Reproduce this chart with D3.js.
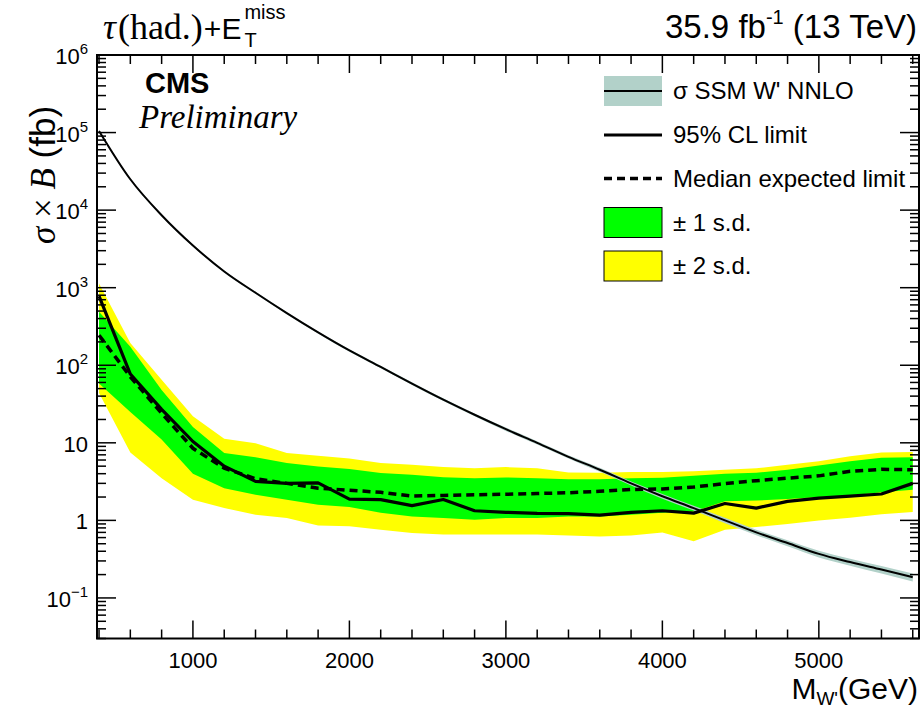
<!DOCTYPE html>
<html>
<head>
<meta charset="utf-8">
<script src="https://cdn.jsdelivr.net/npm/d3@7"></script>
<style>
  html, body { margin: 0; padding: 0; background: #fff; }
  svg { display: block; font-family: "Liberation Sans", Arial, Helvetica, sans-serif; }
</style>
</head>
<body>
<svg id="chart" width="922" height="708"></svg>
<script>
"use strict";

// ── Data ────────────────────────────────────────────────────────────────────
const massPoints = [400, 600, 800, 1000, 1200, 1400, 1600, 1800, 2000, 2200, 2400, 2600, 2800, 3000,
  3200, 3400, 3600, 3800, 4000, 4200, 4400, 4600, 4800, 5000, 5200, 5400, 5600];

const observedLimit = [780, 77, 27, 10.4, 5.0, 3.18, 3.0, 3.05, 1.88, 1.85, 1.55, 1.86, 1.33, 1.27,
  1.23, 1.22, 1.17, 1.27, 1.33, 1.24, 1.65, 1.44, 1.76, 1.94, 2.06, 2.19, 3.0];

const expectedLimit = [244, 71, 24, 8.5, 4.7, 3.45, 3.0, 2.6, 2.45, 2.3, 2.06, 2.1, 2.14, 2.17,
  2.22, 2.27, 2.37, 2.5, 2.54, 2.69, 2.98, 3.25, 3.5, 3.75, 4.3, 4.55, 4.5];

const expectedPlus1 = [490, 173, 48, 16, 7.4, 6.5, 5.5, 4.95, 4.6, 4.07, 3.87, 3.6, 3.5, 3.57,
  3.5, 3.4, 3.4, 3.5, 3.55, 3.76, 4.0, 4.1, 4.5, 5.1, 5.8, 6.4, 6.5];
const expectedMinus1 = [58, 25, 11, 4.0, 2.6, 2.14, 1.85, 1.59, 1.49, 1.25, 1.12, 1.07, 1.02, 1.07,
  1.07, 1.12, 1.12, 1.18, 1.25, 1.3, 1.76, 1.8, 1.88, 2.0, 2.1, 2.3, 2.48];
const expectedPlus2 = [1130, 194, 65, 22, 11.3, 9.9, 7.4, 6.8, 6.3, 5.5, 5.2, 4.86, 4.7, 4.86,
  4.7, 4.14, 4.1, 4.2, 4.2, 4.3, 4.5, 4.7, 5.2, 5.8, 6.7, 7.5, 7.6];
const expectedMinus2 = [44, 7.5, 3.5, 1.85, 1.44, 1.18, 1.07, 0.86, 0.84, 0.76, 0.69, 0.66, 0.66, 0.66,
  0.66, 0.64, 0.62, 0.64, 0.7, 0.54, 0.76, 0.82, 0.9, 1.0, 1.08, 1.2, 1.28];

const theoryXsec = [1.05e5, 2.5e4, 8.6e3, 3.5e3, 1620, 860, 470, 265, 155, 95, 58, 36, 23, 15,
  10, 6.6, 4.5, 3.0, 2.05, 1.44, 1.0, 0.70, 0.51, 0.37, 0.29, 0.232, 0.185];
const theoryRelUnc = [0.03, 0.03, 0.03, 0.03, 0.03, 0.03, 0.03, 0.03, 0.04, 0.04, 0.04, 0.04, 0.04, 0.05,
  0.05, 0.05, 0.06, 0.06, 0.07, 0.07, 0.08, 0.08, 0.09, 0.10, 0.10, 0.11, 0.12];

const xTickLabels = [1000, 2000, 3000, 4000, 5000];
const yDecades = [-1, 0, 1, 2, 3, 4, 5, 6];
const legendLabels = ["\u03c3 SSM W' NNLO", "95% CL limit", "Median expected limit", "\u00b1 1 s.d.", "\u00b1 2 s.d."];

// ── Layout ──────────────────────────────────────────────────────────────────
const SANS = "'Liberation Sans', Arial, Helvetica, sans-serif";
const SERIF = "'Liberation Serif', 'Times New Roman', serif";
const frame = { left: 97, right: 919, top: 55, bottom: 638.5 };

const svg = d3.select("#chart");

const x = d3.scaleLinear().domain([387, 5640]).range([frame.left, frame.right]);
const y = d3.scaleLog().domain([0.03, 1e6]).range([frame.bottom, frame.top]);

const points = massPoints.map((m, i) => ({
  m,
  obs: observedLimit[i],
  exp: expectedLimit[i],
  p1: expectedPlus1[i], m1: expectedMinus1[i],
  p2: expectedPlus2[i], m2: expectedMinus2[i],
  th: theoryXsec[i],
  thUp: theoryXsec[i] * (1 + theoryRelUnc[i]),
  thDn: theoryXsec[i] * (1 - theoryRelUnc[i])
}));

svg.append("clipPath").attr("id", "plotClip")
  .append("rect")
  .attr("x", frame.left).attr("y", frame.top)
  .attr("width", frame.right - frame.left).attr("height", frame.bottom - frame.top);

const plot = svg.append("g").attr("clip-path", "url(#plotClip)");

// ── Bands ───────────────────────────────────────────────────────────────────
const band = (lo, hi) => d3.area().x(d => x(d.m)).y0(d => y(d[lo])).y1(d => y(d[hi]));

plot.append("path").attr("d", band("m2", "p2")(points)).attr("fill", "#ffff00");
plot.append("path").attr("d", band("m1", "p1")(points)).attr("fill", "#00ff00");

plot.append("path")
  .attr("d", band("thDn", "thUp").curve(d3.curveMonotoneX)(points))
  .attr("fill", "#b2d1c9");

// ── Lines ───────────────────────────────────────────────────────────────────
const line = key => d3.line().x(d => x(d.m)).y(d => y(d[key]));

plot.append("path")
  .attr("d", line("th").curve(d3.curveMonotoneX)(points))
  .attr("fill", "none").attr("stroke", "#000").attr("stroke-width", 2);

plot.append("path")
  .attr("d", line("exp")(points))
  .attr("fill", "none").attr("stroke", "#000").attr("stroke-width", 3.5)
  .attr("stroke-dasharray", "8,5");

plot.append("path")
  .attr("d", line("obs")(points))
  .attr("fill", "none").attr("stroke", "#000").attr("stroke-width", 3.2)
  .attr("stroke-linejoin", "round");

// ── Frame and ticks ─────────────────────────────────────────────────────────
const axes = svg.append("g").attr("stroke", "#000").attr("fill", "none");

axes.append("rect")
  .attr("x", frame.left).attr("y", frame.top)
  .attr("width", frame.right - frame.left).attr("height", frame.bottom - frame.top)
  .attr("stroke-width", 2);

const xMinor = d3.range(400, 5601, 200);
xMinor.forEach(v => {
  const len = v % 1000 === 0 ? 18 : 9;
  const px = x(v);
  axes.append("line").attr("x1", px).attr("x2", px)
    .attr("y1", frame.bottom).attr("y2", frame.bottom - len).attr("stroke-width", 1.5);
  axes.append("line").attr("x1", px).attr("x2", px)
    .attr("y1", frame.top).attr("y2", frame.top + len).attr("stroke-width", 1.5);
});

const [yMin, yMax] = y.domain();
for (let e = -2; e <= 6; e++) {
  for (let k = 1; k <= 9; k++) {
    const v = k * Math.pow(10, e);
    if (v < yMin || v > yMax) continue;
    const len = k === 1 ? 19 : 9;
    const py = y(v);
    axes.append("line").attr("x1", frame.left).attr("x2", frame.left + len)
      .attr("y1", py).attr("y2", py).attr("stroke-width", 1.5);
    axes.append("line").attr("x1", frame.right).attr("x2", frame.right - len)
      .attr("y1", py).attr("y2", py).attr("stroke-width", 1.5);
  }
}

// ── Tick labels ─────────────────────────────────────────────────────────────
svg.append("g")
  .selectAll("text")
  .data(xTickLabels)
  .enter().append("text")
  .attr("x", d => x(d))
  .attr("y", 668)
  .attr("text-anchor", "middle")
  .attr("font-size", 22)
  .text(d => d);

const yLab = svg.append("g")
  .selectAll("text")
  .data(yDecades)
  .enter().append("text")
  .attr("x", 88)
  .attr("y", d => y(Math.pow(10, d)) + 9)
  .attr("text-anchor", "end")
  .attr("font-size", 22);

yLab.each(function(d) {
  const t = d3.select(this);
  if (d === 0) { t.text("1"); return; }
  if (d === 1) { t.text("10"); return; }
  t.append("tspan").text("10");
  t.append("tspan").attr("dy", -10).attr("font-size", 15).text(d < 0 ? "\u2212" + (-d) : d);
});

// ── Axis titles ─────────────────────────────────────────────────────────────
const xt = svg.append("text")
  .attr("x", 918).attr("y", 699)
  .attr("text-anchor", "end")
  .attr("font-size", 30);
xt.append("tspan").text("M");
xt.append("tspan").attr("dy", 6).attr("font-size", 19).text("W'");
xt.append("tspan").attr("dy", -6).text("(GeV)");

const yt = svg.append("text")
  .attr("transform", "translate(55,175) rotate(-90)")
  .attr("text-anchor", "middle")
  .attr("font-size", 35);
yt.append("tspan").attr("font-family", SERIF).attr("font-style", "italic").text("\u03c3");
yt.append("tspan").attr("font-family", SERIF).text(" \u00d7 ");
yt.append("tspan").attr("font-family", SERIF).attr("font-style", "italic").text("B");
yt.append("tspan").text(" (fb)");

// ── Header texts ────────────────────────────────────────────────────────────
function chain(parts, x0, baseline) {
  let cx = x0;
  parts.forEach(p => {
    const t = svg.append("text")
      .attr("x", cx + (p.dx || 0))
      .attr("y", baseline + (p.dy || 0))
      .attr("font-family", p.family || SANS)
      .attr("font-style", p.style || "normal")
      .attr("font-size", p.size)
      .text(p.text);
    if (!p.stay) cx += (p.dx || 0) + t.node().getComputedTextLength();
  });
}

chain([
  { text: "\u03c4", family: SERIF, style: "italic", size: 36 },
  { text: "(had.)", family: SERIF, size: 36, dx: 2 },
  { text: "+E", size: 30, dx: 1 },
  { text: "miss", size: 20, dx: 3, dy: -20, stay: true },
  { text: "T", size: 20, dx: 3, dy: 8 }
], 103, 39);

const lumi = svg.append("text")
  .attr("x", 917).attr("y", 38)
  .attr("text-anchor", "end")
  .attr("font-size", 33);
lumi.append("tspan").text("35.9 fb");
lumi.append("tspan").attr("dy", -14).attr("font-size", 20).text("-1");
lumi.append("tspan").attr("dy", 14).text(" (13 TeV)");

svg.append("text")
  .attr("x", 145).attr("y", 93)
  .attr("font-size", 29).attr("font-weight", "bold")
  .text("CMS");

svg.append("text")
  .attr("x", 139).attr("y", 128)
  .attr("font-family", SERIF).attr("font-style", "italic")
  .attr("font-size", 33)
  .text("Preliminary");

// ── Legend ──────────────────────────────────────────────────────────────────
const legRows = [91, 135, 178.5, 222.5, 266];
const legX0 = 604, legX1 = 662;
const leg = svg.append("g");

leg.append("rect").attr("x", legX0).attr("y", legRows[0] - 15)
  .attr("width", legX1 - legX0).attr("height", 30).attr("fill", "#b2d1c9");
leg.append("line").attr("x1", legX0).attr("x2", legX1)
  .attr("y1", legRows[0]).attr("y2", legRows[0])
  .attr("stroke", "#000").attr("stroke-width", 2);

leg.append("line").attr("x1", legX0).attr("x2", legX1)
  .attr("y1", legRows[1]).attr("y2", legRows[1])
  .attr("stroke", "#000").attr("stroke-width", 3.2);

leg.append("line").attr("x1", legX0).attr("x2", legX1)
  .attr("y1", legRows[2]).attr("y2", legRows[2])
  .attr("stroke", "#000").attr("stroke-width", 3.5).attr("stroke-dasharray", "8,5");

[["#00ff00", 3], ["#ffff00", 4]].forEach(([c, i]) => {
  leg.append("rect").attr("x", legX0).attr("y", legRows[i] - 15)
    .attr("width", legX1 - legX0).attr("height", 30)
    .attr("fill", c).attr("stroke", "#000").attr("stroke-width", 1);
});

leg.selectAll("text.leg")
  .data(legendLabels)
  .enter().append("text")
  .attr("class", "leg")
  .attr("x", 673)
  .attr("y", (d, i) => legRows[i] + 8)
  .attr("font-size", 24)
  .text(d => d);
</script>
</body>
</html>
